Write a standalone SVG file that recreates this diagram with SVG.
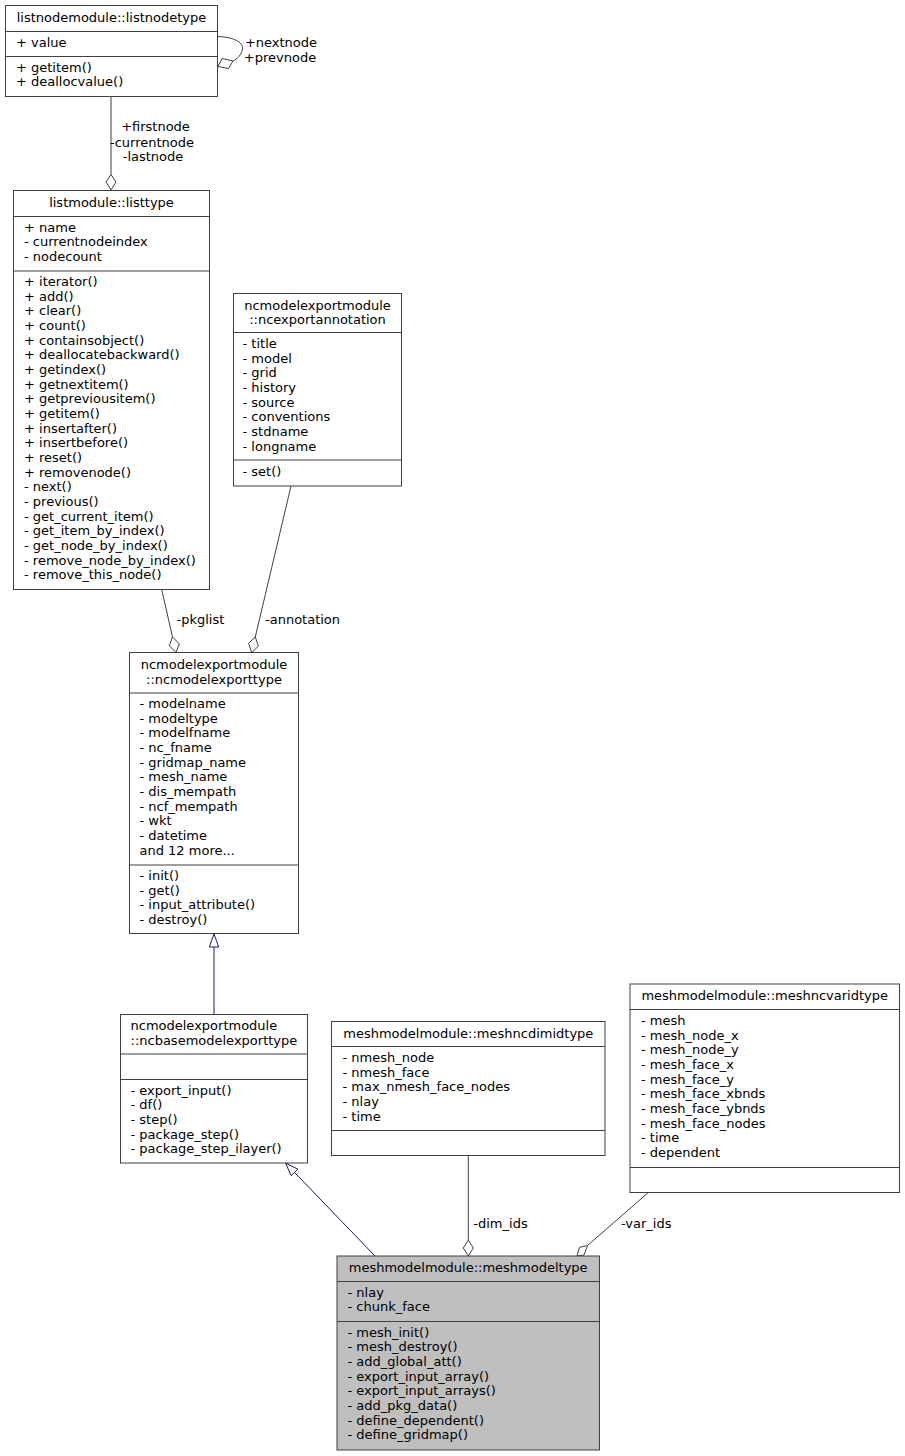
<svg xmlns="http://www.w3.org/2000/svg" width="905" height="1456" viewBox="0 0 905 1456">
<style>
.bg{fill:#ffffff}
.box{fill:#ffffff;stroke:#404040;stroke-width:1}
.sel{fill:#bfbfbf;stroke:#404040;stroke-width:1}
.div{stroke:#404040;stroke-width:1}
text{font-family:"DejaVu Sans","Liberation Sans",sans-serif;font-size:13px;fill:#000000}
.m{text-anchor:middle}
.agg{fill:none;stroke:#404040;stroke-width:1}
.dia{fill:#ffffff;stroke:#404040;stroke-width:1}
.gen{fill:none;stroke:#191970;stroke-width:1}
.tri{fill:#ffffff;stroke:#191970;stroke-width:1}
</style>
<rect class="bg" x="0" y="0" width="905" height="1456"/>
<g id="connectors">
  <!-- self loop listnodetype -->
  <path class="agg" d="M217.5,36.5 C233,37 243.5,42 242.5,49 C241.5,55 237,59 233,61"/>
  <polygon class="dia" points="218,66.5 222,58.5 233,61 228.5,68.5"/>
  <text x="281" y="46.5" class="m">+nextnode</text>
  <text x="280" y="61.5" class="m">+prevnode</text>
  <!-- listnode -> listtype -->
  <line class="agg" x1="111" y1="96.5" x2="111" y2="174.5"/>
  <polygon class="dia" points="111,174.5 116,182 111,190 106,182"/>
  <text x="155.5" y="131" class="m">+firstnode</text>
  <text x="152" y="146.5" class="m">-currentnode</text>
  <text x="153" y="160.5" class="m">-lastnode</text>
  <!-- listtype -> ncmodelexporttype (pkglist) -->
  <line class="agg" x1="161.7" y1="589.5" x2="172.5" y2="637"/>
  <polygon class="dia" points="172.5,637 179.3,643.8 176,652.5 169.3,645.7"/>
  <text x="176.5" y="623.5">-pkglist</text>
  <!-- annotation -> ncmodelexporttype -->
  <line class="agg" x1="291" y1="486" x2="255.3" y2="637"/>
  <polygon class="dia" points="255.3,637 258.4,646.2 251.7,652.5 248.6,643.3"/>
  <text x="265" y="623.5">-annotation</text>
  <!-- ncbasemodel -> ncmodelexporttype (generalization) -->
  <line class="gen" x1="214" y1="1014.5" x2="214" y2="947"/>
  <polygon class="tri" points="214,934 209.3,947 218.7,947"/>
  <!-- meshmodeltype -> ncbasemodel (generalization) -->
  <line class="gen" x1="375" y1="1256" x2="294.5" y2="1172.4"/>
  <polygon class="tri" points="285.5,1163 297.9,1169.2 291.1,1175.6"/>
  <!-- dim_ids -->
  <line class="agg" x1="468.3" y1="1155.5" x2="468.3" y2="1240"/>
  <polygon class="dia" points="468.3,1240 473.3,1248 468.3,1256 463.3,1248"/>
  <text x="473.3" y="1228.3">-dim_ids</text>
  <!-- var_ids -->
  <line class="agg" x1="648.3" y1="1192.5" x2="587.5" y2="1245.5"/>
  <polygon class="dia" points="587.5,1245.5 584,1255 577,1256 579.5,1247.3"/>
  <text x="621" y="1228.3">-var_ids</text>
</g>
<g id="listnodetype">
  <rect class="box" x="5.5" y="5.5" width="212" height="91"/>
  <line class="div" x1="5.5" y1="31.5" x2="217.5" y2="31.5"/>
  <line class="div" x1="5.5" y1="56.5" x2="217.5" y2="56.5"/>
  <text x="111.5" y="21.5" class="m">listnodemodule::listnodetype</text>
  <text x="16" y="46.5">+ value</text>
  <text x="16" y="71.5">+ getitem()</text>
  <text x="16" y="86.2">+ deallocvalue()</text>
</g>
<g id="listtype">
  <rect class="box" x="13.5" y="190.5" width="196" height="399"/>
  <line class="div" x1="13.5" y1="216.5" x2="209.5" y2="216.5"/>
  <line class="div" x1="13.5" y1="271" x2="209.5" y2="271"/>
  <text x="111.5" y="206.5" class="m">listmodule::listtype</text>
  <text x="24" y="231.5">+ name</text>
  <text x="24" y="246.2">- currentnodeindex</text>
  <text x="24" y="260.8">- nodecount</text>
  <text x="24" y="286">+ iterator()</text>
  <text x="24" y="300.7">+ add()</text>
  <text x="24" y="315.3">+ clear()</text>
  <text x="24" y="330">+ count()</text>
  <text x="24" y="344.7">+ containsobject()</text>
  <text x="24" y="359.3">+ deallocatebackward()</text>
  <text x="24" y="374">+ getindex()</text>
  <text x="24" y="388.7">+ getnextitem()</text>
  <text x="24" y="403.4">+ getpreviousitem()</text>
  <text x="24" y="418">+ getitem()</text>
  <text x="24" y="432.7">+ insertafter()</text>
  <text x="24" y="447.4">+ insertbefore()</text>
  <text x="24" y="462">+ reset()</text>
  <text x="24" y="476.7">+ removenode()</text>
  <text x="24" y="491.4">- next()</text>
  <text x="24" y="506">- previous()</text>
  <text x="24" y="520.7">- get_current_item()</text>
  <text x="24" y="535.4">- get_item_by_index()</text>
  <text x="24" y="550">- get_node_by_index()</text>
  <text x="24" y="564.7">- remove_node_by_index()</text>
  <text x="24" y="579.4">- remove_this_node()</text>
</g>
<g id="ncexportannotation">
  <rect class="box" x="233.5" y="293.5" width="168" height="192.5"/>
  <line class="div" x1="233.5" y1="332.5" x2="401.5" y2="332.5"/>
  <line class="div" x1="233.5" y1="460" x2="401.5" y2="460"/>
  <text x="317.5" y="309.5" class="m">ncmodelexportmodule</text>
  <text x="317.5" y="324.2" class="m">::ncexportannotation</text>
  <text x="242.5" y="348">- title</text>
  <text x="242.5" y="362.7">- model</text>
  <text x="242.5" y="377.3">- grid</text>
  <text x="242.5" y="392">- history</text>
  <text x="242.5" y="406.7">- source</text>
  <text x="242.5" y="421.3">- conventions</text>
  <text x="242.5" y="436">- stdname</text>
  <text x="242.5" y="450.7">- longname</text>
  <text x="242.5" y="475.5">- set()</text>
</g>
<g id="ncmodelexporttype">
  <rect class="box" x="129.5" y="652.5" width="169" height="281"/>
  <line class="div" x1="129.5" y1="693" x2="298.5" y2="693"/>
  <line class="div" x1="129.5" y1="865" x2="298.5" y2="865"/>
  <text x="214" y="669" class="m">ncmodelexportmodule</text>
  <text x="214" y="683.5" class="m">::ncmodelexporttype</text>
  <text x="139.5" y="708">- modelname</text>
  <text x="139.5" y="722.7">- modeltype</text>
  <text x="139.5" y="737.3">- modelfname</text>
  <text x="139.5" y="752">- nc_fname</text>
  <text x="139.5" y="766.7">- gridmap_name</text>
  <text x="139.5" y="781.3">- mesh_name</text>
  <text x="139.5" y="796">- dis_mempath</text>
  <text x="139.5" y="810.7">- ncf_mempath</text>
  <text x="139.5" y="825.4">- wkt</text>
  <text x="139.5" y="840">- datetime</text>
  <text x="139.5" y="854.7">and 12 more...</text>
  <text x="139.5" y="880">- init()</text>
  <text x="139.5" y="894.7">- get()</text>
  <text x="139.5" y="909.3">- input_attribute()</text>
  <text x="139.5" y="924">- destroy()</text>
</g>
<g id="ncbasemodelexporttype">
  <rect class="box" x="120.5" y="1014.5" width="187" height="148.5"/>
  <line class="div" x1="120.5" y1="1054" x2="307.5" y2="1054"/>
  <line class="div" x1="120.5" y1="1079.5" x2="307.5" y2="1079.5"/>
  <text x="130.5" y="1030">ncmodelexportmodule</text>
  <text x="130.5" y="1044.7">::ncbasemodelexporttype</text>
  <text x="130.5" y="1094.5">- export_input()</text>
  <text x="130.5" y="1109.2">- df()</text>
  <text x="130.5" y="1123.8">- step()</text>
  <text x="130.5" y="1138.5">- package_step()</text>
  <text x="130.5" y="1153.2">- package_step_ilayer()</text>
</g>
<g id="meshncdimidtype">
  <rect class="box" x="331.5" y="1021.5" width="273.5" height="134"/>
  <line class="div" x1="331.5" y1="1046.5" x2="605" y2="1046.5"/>
  <line class="div" x1="331.5" y1="1130.5" x2="605" y2="1130.5"/>
  <text x="468.3" y="1037.5" class="m">meshmodelmodule::meshncdimidtype</text>
  <text x="342.5" y="1062">- nmesh_node</text>
  <text x="342.5" y="1076.7">- nmesh_face</text>
  <text x="342.5" y="1091.3">- max_nmesh_face_nodes</text>
  <text x="342.5" y="1106">- nlay</text>
  <text x="342.5" y="1120.7">- time</text>
</g>
<g id="meshncvaridtype">
  <rect class="box" x="630" y="984" width="269.5" height="208.5"/>
  <line class="div" x1="630" y1="1009.5" x2="899.5" y2="1009.5"/>
  <line class="div" x1="630" y1="1167.5" x2="899.5" y2="1167.5"/>
  <text x="764.7" y="1000" class="m">meshmodelmodule::meshncvaridtype</text>
  <text x="641" y="1024.8">- mesh</text>
  <text x="641" y="1039.5">- mesh_node_x</text>
  <text x="641" y="1054.1">- mesh_node_y</text>
  <text x="641" y="1068.8">- mesh_face_x</text>
  <text x="641" y="1083.5">- mesh_face_y</text>
  <text x="641" y="1098.1">- mesh_face_xbnds</text>
  <text x="641" y="1112.8">- mesh_face_ybnds</text>
  <text x="641" y="1127.5">- mesh_face_nodes</text>
  <text x="641" y="1142.1">- time</text>
  <text x="641" y="1156.8">- dependent</text>
</g>
<g id="meshmodeltype">
  <rect class="sel" x="337" y="1256" width="262.5" height="194"/>
  <line class="div" x1="337" y1="1281.5" x2="599.5" y2="1281.5"/>
  <line class="div" x1="337" y1="1321.5" x2="599.5" y2="1321.5"/>
  <text x="468.2" y="1272" class="m">meshmodelmodule::meshmodeltype</text>
  <text x="347.5" y="1296.5">- nlay</text>
  <text x="347.5" y="1311.2">- chunk_face</text>
  <text x="347.5" y="1336.5">- mesh_init()</text>
  <text x="347.5" y="1351.2">- mesh_destroy()</text>
  <text x="347.5" y="1365.8">- add_global_att()</text>
  <text x="347.5" y="1380.5">- export_input_array()</text>
  <text x="347.5" y="1395.2">- export_input_arrays()</text>
  <text x="347.5" y="1409.8">- add_pkg_data()</text>
  <text x="347.5" y="1424.5">- define_dependent()</text>
  <text x="347.5" y="1439.2">- define_gridmap()</text>
</g>
</svg>
